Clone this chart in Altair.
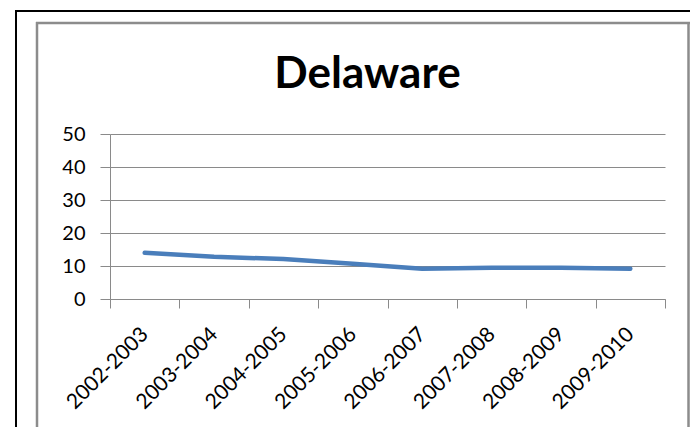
import altair as alt
import pandas as pd

years = ["2002-2003", "2003-2004", "2004-2005", "2005-2006",
         "2006-2007", "2007-2008", "2008-2009", "2009-2010"]
values = [14.0, 12.8, 12.1, 10.7, 9.2, 9.5, 9.5, 9.2]
y_ticks = [0, 10, 20, 30, 40, 50]
title_text = "Delaware"

df = pd.DataFrame({"year": years, "value": values})

GRAY = "#8a8a8a"
FONT = "Lato"

base = alt.Chart(df)

line = base.mark_line(color="#4A7EBB", strokeWidth=4.5, strokeCap="round", strokeJoin="round").encode(
    x=alt.X("year:N", sort=years,
            scale=alt.Scale(type="band", paddingInner=0, paddingOuter=0),
            axis=alt.Axis(title=None, labelAngle=-45, labelAlign="right", labelBaseline="middle",
                          tickBand="extent", ticks=True, tickSize=9, tickColor=GRAY,
                          domainColor=GRAY, domainWidth=1, labelPadding=23,
                          labelFont=FONT, labelFontSize=21, labelColor="black", grid=False)),
    y=alt.Y("value:Q", scale=alt.Scale(domain=[0, 50], nice=False),
            axis=alt.Axis(title=None, values=y_ticks, tickSize=10, tickColor=GRAY,
                          domainColor=GRAY, gridColor=GRAY, gridWidth=1, grid=True,
                          labelPadding=15, labelFont=FONT, labelFontSize=20,
                          labelColor="black")),
)

first = alt.datum.year == years[0]


def hrule(x, x2, y, color, w):
    return alt.Chart(df).mark_rule(color=color, strokeWidth=w, clip=False).encode(
        x=alt.value(x), x2=alt.value(x2), y=alt.value(y)
    ).transform_filter(first)


def vrule(x, y, y2, color, w):
    return alt.Chart(df).mark_rule(color=color, strokeWidth=w, clip=False).encode(
        x=alt.value(x), y=alt.value(y), y2=alt.value(y2)
    ).transform_filter(first)


frame = [
    hrule(-95, 580, -123, "black", 2),
    vrule(-94, -124, 300, "black", 2),
    hrule(-74, 580, -111, "#8c8c8c", 2.5),
    vrule(-73, -112, 298, "#8c8c8c", 2.5),
    vrule(578.5, -112, 298, "#8c8c8c", 2.5),
]

title = alt.Chart(df).mark_text(font=FONT, fontSize=44, fontWeight="bold", color="black",
                                align="center", baseline="alphabetic", clip=False).encode(
    x=alt.value(257.5), y=alt.value(-46), text=alt.value(title_text)
).transform_filter(first)

chart = alt.layer(*frame, line, title).properties(
    width=555, height=165,
    autosize=alt.AutoSizeParams(type="none"),
    padding={"left": 102, "top": 126, "right": 25, "bottom": 128},
).configure_view(stroke=None)

chart.save("out.html", embed_options={"renderer": "svg", "actions": False})
